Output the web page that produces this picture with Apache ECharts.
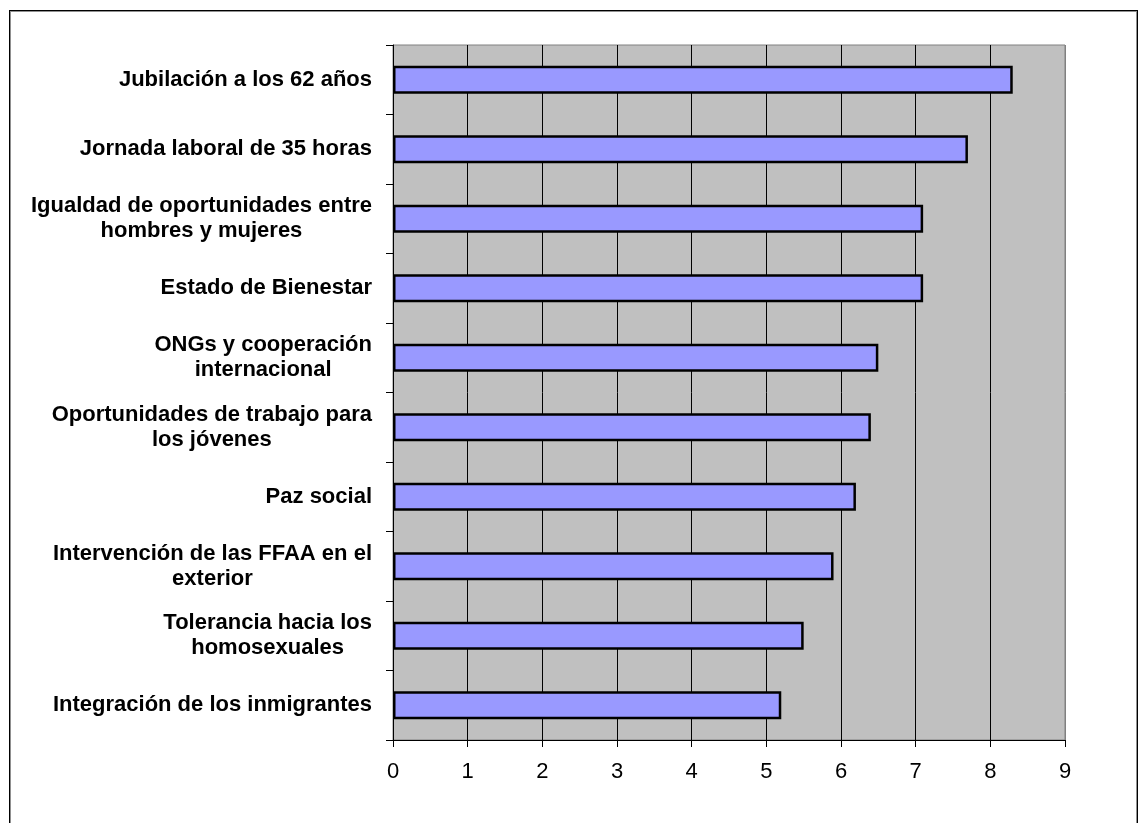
<!DOCTYPE html>
<html>
<head>
<meta charset="utf-8">
<script src="https://cdn.jsdelivr.net/npm/echarts@6/dist/echarts.min.js"></script>
<style>
    html, body { margin: 0; padding: 0; background: #fff; overflow: hidden; }
    #frame {
        position: absolute; left: 9px; top: 10px; width: 1127px; height: 840px;
        border: 1px solid #000; box-shadow: inset 0 0 0 1px #909090;
    }
    #chart { position: absolute; left: 0; top: 0; width: 1141px; height: 823px; }
</style>
</head>
<body>
<div id="frame"></div>
<div id="chart"></div>
<script>
    // categorías (de arriba a abajo)
    var categories = [
        'Jubilación a los 62 años',
        'Jornada laboral de 35 horas',
        'Igualdad de oportunidades entre\nhombres y mujeres',
        'Estado de Bienestar',
        'ONGs y cooperación\ninternacional',
        'Oportunidades de trabajo para\nlos jóvenes',
        'Paz social',
        'Intervención de las FFAA en el\nexterior',
        'Tolerancia hacia los\nhomosexuales',
        'Integración de los inmigrantes'
    ];
    // valores
    var values = [8.3, 7.7, 7.1, 7.1, 6.5, 6.4, 6.2, 5.9, 5.5, 5.2];
    // eje x
    var xTicks = [0, 1, 2, 3, 4, 5, 6, 7, 8, 9];

    var labelFont = 'Liberation Sans, Arial, sans-serif';

    // cada línea centrada dentro del bloque, bloque alineado a la derecha
    function formatLabel(value) {
        return value.split('\n').map(function (line) {
            return '{c|' + line + '}';
        }).join('\n');
    }

    // colores de las líneas verticales: la última gris como el borde
    var splitColors = xTicks.map(function (t, i) {
        return i === xTicks.length - 1 ? '#808080' : '#000';
    });

    var myChart = echarts.init(document.getElementById('chart'));
    myChart.setOption({
        animation: false,
        grid: {
            left: 393,
            right: 76,
            top: 45,
            bottom: 83,
            show: true,
            backgroundColor: '#C0C0C0',
            borderColor: '#808080',
            borderWidth: 1
        },
        xAxis: {
            type: 'value',
            min: xTicks[0],
            max: xTicks[xTicks.length - 1],
            interval: 1,
            axisLine: { show: true, lineStyle: { color: '#000', width: 1 } },
            axisTick: { show: true, length: 7, lineStyle: { color: '#000' } },
            axisLabel: {
                color: '#000',
                fontFamily: labelFont,
                fontSize: 22,
                margin: 21
            },
            splitLine: { show: true, lineStyle: { color: splitColors, width: 1 } }
        },
        yAxis: {
            type: 'category',
            inverse: true,
            data: categories,
            axisLine: { show: true, lineStyle: { color: '#000', width: 1 } },
            axisTick: { show: true, length: 7, lineStyle: { color: '#000' } },
            axisLabel: {
                color: '#000',
                fontFamily: labelFont,
                fontWeight: 'bold',
                fontSize: 22,
                margin: 21,
                align: 'right',
                lineHeight: 25,
                formatter: formatLabel,
                rich: {
                    c: {
                        align: 'center',
                        color: '#000',
                        fontFamily: labelFont,
                        fontWeight: 'bold',
                        fontSize: 22,
                        lineHeight: 25
                    }
                }
            },
            splitLine: { show: false }
        },
        series: [{
            type: 'bar',
            data: values,
            barWidth: 28,
            itemStyle: {
                color: '#9999FF',
                borderColor: '#000',
                borderWidth: 2.5
            }
        }]
    });
</script>
</body>
</html>
